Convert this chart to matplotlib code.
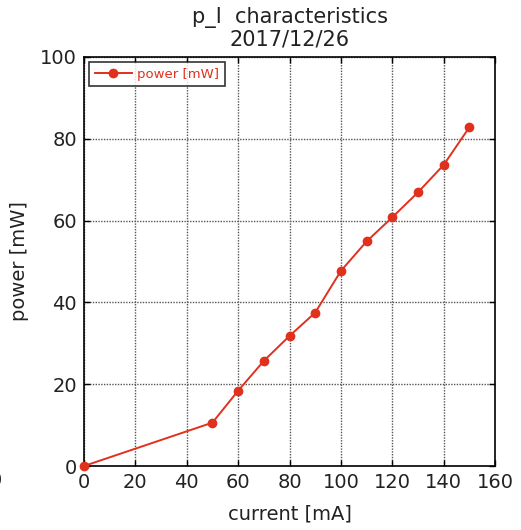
import matplotlib
matplotlib.use('Agg')
import matplotlib.pyplot as plt

# data
current = [0, 50, 60, 70, 80, 90, 100, 110, 120, 130, 140, 150]  # mA
power = [0, 10.6, 18.4, 25.7, 31.8, 37.5, 47.7, 54.9, 60.8, 66.9, 73.6, 82.8]  # mW

xticks = [0, 20, 40, 60, 80, 100, 120, 140, 160]
yticks = [0, 20, 40, 60, 80, 100]

plt.rcParams['font.family'] = ['DejaVu Sans']

fig = plt.figure(figsize=(5.21, 5.30), dpi=100)
ax = fig.add_axes([84 / 521, 1 - 466 / 530, (495 - 84) / 521, (466 - 57) / 530])

red = '#e0301e'
ax.plot(current, power, color=red, lw=1.4, marker='o', markersize=6,
        label='power [mW]', clip_on=False, zorder=3)

ax.set_xlim(0, 160)
ax.set_ylim(0, 100)
ax.set_xticks(xticks)
ax.set_yticks(yticks)
ax.grid(True, linestyle=(0, (1, 1)), color='#555555', lw=1)
ax.tick_params(direction='in', length=4, width=1, labelsize=14, pad=5,
               top=True, right=True, colors='black', labelcolor='#222222')
for s in ax.spines.values():
    s.set_linewidth(1.2)

ax.set_xlabel('current [mA]', fontsize=14, labelpad=9, color='#222222')
ax.set_ylabel('power [mW]', fontsize=14, labelpad=8, color='#222222')
ax.set_title('p_I  characteristics\n2017/12/26', fontsize=15,
             linespacing=1.1, pad=8, color='#222222')

leg = ax.legend(loc='upper left', fontsize=9.5, frameon=True, fancybox=False,
                borderpad=0.45, handlelength=2.8, handletextpad=0.4,
                borderaxespad=0.35, labelcolor=red)
leg.get_frame().set_edgecolor('black')
leg.get_frame().set_linewidth(1.2)

# clipped label at the left edge of the picture
fig.text(-0.008, 1 - 481 / 530, '0', fontsize=14, ha='center', va='center',
         color='#222222')

fig.savefig('out.png', dpi=100)
